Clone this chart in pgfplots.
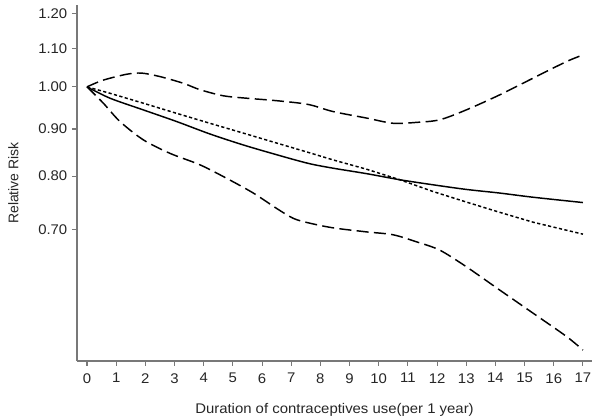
\documentclass[border=0pt]{standalone}
\usepackage{fontspec}
\setmainfont{Liberation Sans}[FakeStretch=1.065]
\newfontfamily\plainsans{Liberation Sans}
\usepackage{pgfplots}
\usepackage{pgfplotstable}
\pgfplotsset{compat=1.18}

\definecolor{axisgray}{RGB}{120,120,120}

\pgfplotstableread{
x     rr
0     1.000
0.79  0.972
1.93  0.944
3.07  0.917
4.21  0.889
5.35  0.865
6.50  0.844
7.58  0.826
8.44  0.816
9.58  0.805
10.72 0.793
11.86 0.783
13.00 0.774
14.14 0.767
15.29 0.759
17.00 0.749
}\rrsolid

\pgfplotstableread{
x     rr
0     1.000
0.79  0.984
1.93  0.960
3.07  0.936
4.21  0.913
5.35  0.891
6.50  0.869
7.58  0.849
8.44  0.833
9.58  0.814
10.72 0.793
11.86 0.770
13.00 0.750
14.14 0.731
15.29 0.713
17.00 0.692
}\rrlinear

\pgfplotstableread{
x     rr
0     1.000
0.56  1.017
1.36  1.032
1.87  1.035
2.50  1.026
3.30  1.009
3.87  0.993
4.67  0.978
5.47  0.972
6.50  0.966
7.58  0.957
8.44  0.940
9.58  0.925
10.49 0.913
11.29 0.915
12.09 0.921
13.00 0.944
14.14 0.980
15.29 1.022
16.43 1.065
17.00 1.083
}\rrupper

\pgfplotstableread{
x     rr
0     1.000
0.56  0.960
1.13  0.917
1.93  0.876
2.84  0.847
3.87  0.823
4.78  0.796
5.70  0.767
6.50  0.738
7.07  0.720
7.58  0.712
8.44  0.703
9.58  0.696
10.49 0.691
11.29 0.679
12.09 0.665
13.00 0.638
14.14 0.602
15.29 0.568
16.43 0.536
17.00 0.518
}\rrlower

\begin{document}
\begin{tikzpicture}
\useasboundingbox (-57.75pt,-44.25pt) rectangle (392.25pt,270.75pt);
\begin{semilogyaxis}[
  scale only axis,
  width=386.25pt, height=267pt,
  xmin=-0.343, xmax=17.31,
  ymin=0.504, ymax=1.227,
  axis x line*=bottom, axis y line*=left,
  axis line style={axisgray, line width=0.9pt},
  every tick/.style={axisgray, line width=0.8pt},
  tick align=outside, major tick length=3.75pt,
  xtick={0,1,...,17},
  ytick={0.7,0.8,0.9,1.0,1.1,1.2},
  yticklabels={0.70,0.80,0.90,1.00,1.10,1.20},
  minor tick num=0, log ticks with fixed point,
  /pgf/number format/assume math mode=true,
  tick label style={font=\fontsize{10.5}{12}\selectfont, text=black!85},
  xticklabel style={yshift=-2pt},
  label style={font=\fontsize{10.5}{12}\selectfont, text=black!85},
  xlabel={Duration of contraceptives use(per 1 year)},
  ylabel={\plainsans Relative Risk},
  xlabel style={yshift=-8pt},
  ylabel style={yshift=8pt},
  clip=false,
]
\addplot[black, line width=1.1pt, smooth] table[x=x,y=rr] {\rrsolid};
\addplot[black, line width=1.1pt, dash pattern=on 2.4pt off 1.8pt] table[x=x,y=rr] {\rrlinear};
\addplot[black, line width=1.1pt, smooth, dash pattern=on 9pt off 4pt] table[x=x,y=rr] {\rrupper};
\addplot[black, line width=1.1pt, smooth, dash pattern=on 9pt off 4pt] table[x=x,y=rr] {\rrlower};
\end{semilogyaxis}
\end{tikzpicture}
\end{document}
